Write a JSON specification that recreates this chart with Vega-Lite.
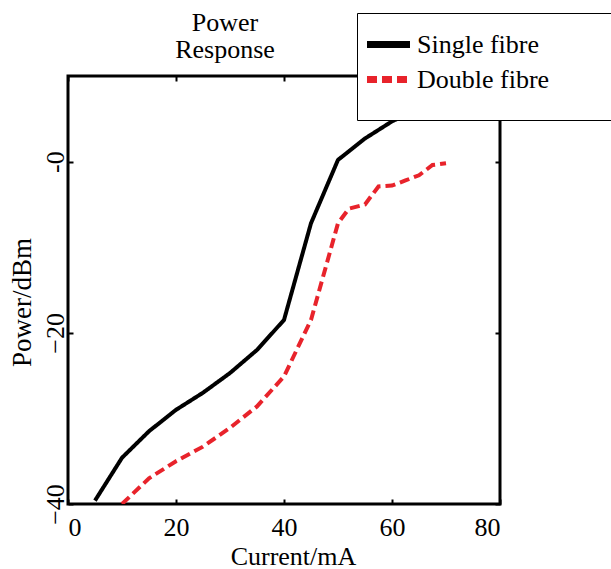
{
  "$schema": "https://vega.github.io/schema/vega-lite/v6.json",
  "width": 432,
  "height": 428,
  "autosize": {"type": "none"},
  "padding": {"left": 68, "top": 76, "right": 111, "bottom": 65},
  "background": "white",
  "title": {
    "text": ["Power", "Response"],
    "font": "Liberation Serif",
    "fontSize": 26,
    "fontWeight": "normal",
    "color": "black",
    "anchor": "middle",
    "baseline": "alphabetic",
    "dx": -59,
    "dy": 31.5,
    "lineHeight": 27,
    "offset": -40
  },
  "data": {
    "values": [
      {"current": 5, "power": -39.6, "series": "Single fibre"},
      {"current": 10, "power": -34.6, "series": "Single fibre"},
      {"current": 15, "power": -31.5, "series": "Single fibre"},
      {"current": 20, "power": -29, "series": "Single fibre"},
      {"current": 25, "power": -27, "series": "Single fibre"},
      {"current": 30, "power": -24.7, "series": "Single fibre"},
      {"current": 35, "power": -22, "series": "Single fibre"},
      {"current": 40, "power": -18.5, "series": "Single fibre"},
      {"current": 45, "power": -7.2, "series": "Single fibre"},
      {"current": 50, "power": 0.2, "series": "Single fibre"},
      {"current": 55, "power": 2.7, "series": "Single fibre"},
      {"current": 60, "power": 4.7, "series": "Single fibre"},
      {"current": 65, "power": 6.2, "series": "Single fibre"},
      {"current": 70, "power": 7.3, "series": "Single fibre"},
      {"current": 10, "power": -40, "series": "Double fibre"},
      {"current": 15, "power": -37, "series": "Double fibre"},
      {"current": 20, "power": -35, "series": "Double fibre"},
      {"current": 25, "power": -33.3, "series": "Double fibre"},
      {"current": 30, "power": -31.1, "series": "Double fibre"},
      {"current": 35, "power": -28.6, "series": "Double fibre"},
      {"current": 40, "power": -25.1, "series": "Double fibre"},
      {"current": 45, "power": -18.5, "series": "Double fibre"},
      {"current": 50, "power": -7.2, "series": "Double fibre"},
      {"current": 52, "power": -5.5, "series": "Double fibre"},
      {"current": 55, "power": -5, "series": "Double fibre"},
      {"current": 57.5, "power": -2.9, "series": "Double fibre"},
      {"current": 60, "power": -2.8, "series": "Double fibre"},
      {"current": 62.5, "power": -2.2, "series": "Double fibre"},
      {"current": 65, "power": -1.6, "series": "Double fibre"},
      {"current": 67.5, "power": -0.4, "series": "Double fibre"},
      {"current": 70, "power": -0.2, "series": "Double fibre"}
    ]
  },
  "layer": [
    {
      "mark": {"type": "line", "strokeWidth": 4, "clip": true},
      "encoding": {
        "x": {
          "field": "current", "type": "quantitative",
          "scale": {"domain": [0, 80], "nice": false, "zero": false},
          "axis": {
            "values": [0, 20, 40, 60, 80],
            "title": "Current/mA",
            "titleX": 225, "titleY": 60,
            "titleBaseline": "alphabetic", "titleAlign": "center",
            "labelPadding": 15.5
          }
        },
        "y": {
          "field": "power", "type": "quantitative",
          "scale": {"domain": [-40, 10], "nice": false, "zero": false},
          "axis": {
            "values": [-40, -20, 0],
            "labelExpr": "datum.value == 0 ? '-0' : datum.label",
            "labelAngle": -90,
            "labelAlign": "center",
            "labelBaseline": "alphabetic",
            "labelPadding": 10,
            "title": "Power/dBm",
            "titleFontSize": 27,
            "titleAngle": -90,
            "titleX": -38, "titleY": 226,
            "titleBaseline": "alphabetic", "titleAlign": "center"
          }
        },
        "color": {
          "field": "series", "type": "nominal",
          "scale": {"domain": ["Single fibre", "Double fibre"], "range": ["#000000", "#e8232b"]},
          "legend": {
            "title": "\u2800",
            "titleOrient": "right",
            "titleFont": "DejaVu Sans",
            "titleFontSize": 80,
            "titleColor": "white",
            "titleBaseline": "top",
            "titleAnchor": "start",
            "titlePadding": 60,
            "orient": "none",
            "legendX": 289,
            "legendY": -63,
            "padding": 14,
            "fillColor": "white",
            "strokeColor": "black",
            "symbolType": "M-1.536,0H1.536",
            "symbolSize": 784,
            "symbolStrokeWidth": 7,
            "labelOffset": 11,
            "labelFont": "Liberation Serif",
            "labelFontSize": 26,
            "labelColor": "black",
            "labelLimit": 400,
            "rowPadding": 3
          }
        },
        "strokeDash": {
          "field": "series", "type": "nominal",
          "scale": {"domain": ["Single fibre", "Double fibre"], "range": [[1, 0], [10, 5]]},
          "legend": null
        }
      }
    },
    {
      "mark": {"type": "line", "opacity": 0},
      "encoding": {
        "x": {
          "field": "current", "type": "quantitative",
          "axis": {"orient": "top", "values": [0, 20, 40, 60, 80], "labels": false, "title": null}
        },
        "y": {
          "field": "power", "type": "quantitative",
          "axis": {"orient": "right", "values": [-40, -20, 0], "labels": false, "title": null}
        },
        "detail": {"field": "series"}
      }
    }
  ],
  "resolve": {"axis": {"x": "independent", "y": "independent"}},
  "config": {
    "view": {"stroke": "black", "strokeWidth": 3},
    "axis": {
      "domain": false,
      "grid": false,
      "ticks": true,
      "tickSize": -5,
      "tickWidth": 2,
      "tickColor": "black",
      "labelFont": "Liberation Serif",
      "labelFontSize": 26,
      "labelColor": "black",
      "titleFont": "Liberation Serif",
      "titleFontSize": 26,
      "titleFontWeight": "normal",
      "titleColor": "black"
    }
  }
}
